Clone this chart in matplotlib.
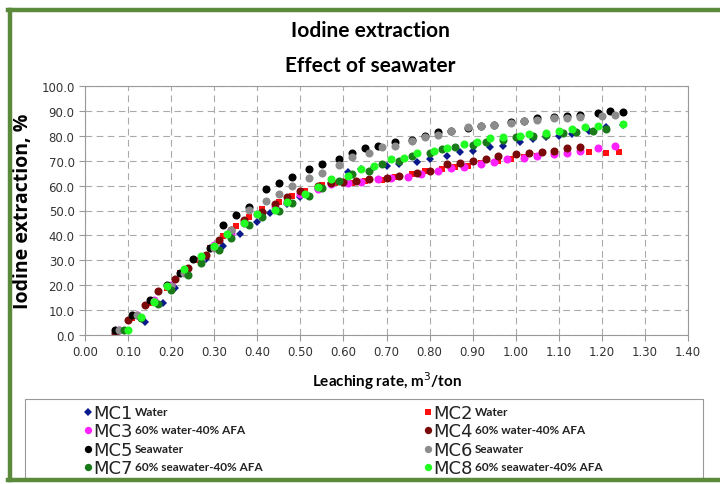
import matplotlib.pyplot as plt
from matplotlib.patches import Rectangle

# leaching rate (m3/ton) and iodine extraction (%) per column
mc1_x = [0.08, 0.14, 0.18, 0.21, 0.24, 0.28, 0.32, 0.36, 0.40, 0.43, 0.47, 0.50, 0.54, 0.57, 0.61, 0.64, 0.67,
         0.70, 0.73, 0.77, 0.80, 0.84, 0.87, 0.90, 0.94, 0.97, 1.01, 1.04, 1.07, 1.10, 1.13, 1.17, 1.21, 1.25]
mc1_y = [1.5, 5.2, 12.9, 18.9, 24.5, 30.5, 35.7, 40.6, 45.4, 49, 52.5, 55.5, 58.5, 61, 65.5, 66.5, 67.5,
         68, 68.7, 69.5, 70.7, 71.9, 73.5, 73.9, 75.5, 75.9, 77.5, 78.7, 79.5, 79.9, 80.7, 81.9, 83.5, 84.3]

mc2_x = [0.07, 0.11, 0.15, 0.19, 0.22, 0.26, 0.29, 0.32, 0.35, 0.38, 0.41, 0.45, 0.48, 0.51, 0.55, 0.58, 0.62, 0.65,
         0.69, 0.72, 0.76, 0.79, 0.83, 0.86, 0.89, 0.92, 0.96, 0.99, 1.02, 1.05, 1.09, 1.12, 1.17, 1.21, 1.24]
mc2_y = [1.5, 7, 13, 19, 25, 30, 35, 39.8, 43.8, 47.4, 50.6, 53.4, 55.8, 58, 60.2, 61, 61, 62,
         62.2, 63.5, 64.5, 65.9, 66.7, 67.5, 67.9, 69.1, 69.9, 70.7, 71.5, 71.9, 72.7, 73.1, 73.5, 73.1, 73.5]

mc3_x = [0.08, 0.12, 0.16, 0.20, 0.23, 0.27, 0.30, 0.34, 0.37, 0.40, 0.44, 0.47, 0.50, 0.54, 0.57, 0.61, 0.64,
         0.68, 0.71, 0.75, 0.78, 0.82, 0.85, 0.88, 0.92, 0.95, 0.98, 1.02, 1.05, 1.09, 1.12, 1.15, 1.19, 1.23]
mc3_y = [2, 8, 14, 20, 26, 31, 36, 41, 45, 48.5, 51.5, 54, 56.5, 58.8, 60.5, 61, 61.5,
         62.5, 63, 63.5, 64.5, 65.9, 67, 67.5, 68.5, 69.5, 70.5, 71, 72, 72.5, 73, 74, 75.1, 75.9]

mc4_x = [0.07, 0.10, 0.14, 0.17, 0.21, 0.24, 0.28, 0.31, 0.34, 0.37, 0.41, 0.44, 0.47, 0.50, 0.54, 0.57, 0.60,
         0.63, 0.66, 0.70, 0.73, 0.77, 0.80, 0.84, 0.87, 0.90, 0.93, 0.96, 1.00, 1.03, 1.06, 1.09, 1.12, 1.15]
mc4_y = [1, 6, 12, 17.5, 22.5, 27, 32, 38, 42, 46, 49.5, 52.5, 55.5, 58, 60, 61, 61.5,
         62, 62.5, 63, 64, 65, 66, 68.7, 69, 69.9, 70.5, 71.9, 72.5, 73.1, 73.5, 73.9, 75, 75.5]

mc5_x = [0.07, 0.11, 0.15, 0.19, 0.22, 0.25, 0.29, 0.32, 0.35, 0.38, 0.42, 0.45, 0.48, 0.52, 0.55, 0.59, 0.62, 0.65,
         0.68, 0.72, 0.76, 0.79, 0.82, 0.85, 0.89, 0.92, 0.95, 0.99, 1.02, 1.05, 1.09, 1.12, 1.15, 1.19, 1.22, 1.25]
mc5_y = [2, 8, 14, 20, 25, 30.5, 35, 44, 48, 51.5, 58.5, 61, 63.5, 66.5, 68.5, 70.5, 73, 75,
         76, 77.5, 78.5, 80, 81.5, 82, 83, 84, 84.5, 85.5, 86, 87, 87.5, 88, 88.5, 89, 90, 89.5]

mc6_x = [0.08, 0.12, 0.16, 0.20, 0.23, 0.27, 0.30, 0.34, 0.38, 0.42, 0.45, 0.48, 0.52, 0.55, 0.59, 0.62, 0.66,
         0.69, 0.72, 0.76, 0.79, 0.82, 0.85, 0.89, 0.92, 0.95, 0.99, 1.02, 1.05, 1.09, 1.12, 1.15, 1.20, 1.23]
mc6_y = [2, 8, 13.5, 19.5, 25, 30, 35, 42, 50.2, 53.8, 56.6, 60, 63, 65, 68.3, 71.5, 73,
         75.5, 75.8, 78, 79.5, 80.5, 82, 83.5, 84, 84.3, 85, 86, 86.5, 87, 87.2, 87.5, 88, 88.3]

mc7_x = [0.09, 0.13, 0.17, 0.20, 0.24, 0.27, 0.31, 0.34, 0.38, 0.41, 0.45, 0.48, 0.52, 0.55, 0.59, 0.62, 0.66,
         0.69, 0.73, 0.76, 0.80, 0.83, 0.86, 0.90, 0.93, 0.97, 1.00, 1.04, 1.07, 1.11, 1.14, 1.18, 1.21]
mc7_y = [2, 7, 12.5, 18, 24, 29, 34, 39, 44, 47.5, 50, 53, 56, 59, 62, 64.5, 66,
         68.5, 70, 72, 73, 74.5, 75.5, 76.5, 77.5, 78.5, 79.5, 80, 80.5, 81, 81.5, 82, 82.7]

mc8_x = [0.10, 0.13, 0.16, 0.19, 0.23, 0.27, 0.30, 0.33, 0.37, 0.40, 0.44, 0.47, 0.51, 0.54, 0.57, 0.61, 0.64, 0.67,
         0.71, 0.74, 0.77, 0.81, 0.84, 0.88, 0.91, 0.94, 0.97, 1.01, 1.03, 1.07, 1.10, 1.13, 1.16, 1.19, 1.25]
mc8_y = [2, 7.2, 13.3, 19.7, 26.5, 31.7, 35.7, 40.6, 45, 48.6, 50.2, 53.4, 56.6, 59.4, 62.6, 63.9, 66.7, 67.9,
         70.7, 71.1, 73.1, 73.9, 75.1, 76.7, 77.5, 79.1, 79.5, 79.9, 80.7, 81.2, 81.9, 82.7, 83.5, 83.9, 84.7]

names = ["MC1", "MC2", "MC3", "MC4", "MC5", "MC6", "MC7", "MC8"]
descr = ["Water", "Water", "60% water-40% AFA", "60% water-40% AFA",
         "Seawater", "Seawater", "60% seawater-40% AFA", "60% seawater-40% AFA"]
xs = [mc1_x, mc2_x, mc3_x, mc4_x, mc5_x, mc6_x, mc7_x, mc8_x]
ys = [mc1_y, mc2_y, mc3_y, mc4_y, mc5_y, mc6_y, mc7_y, mc8_y]
colors = ["#0a1a8a", "#ff1010", "#ff22ff", "#7a0a0a", "#000000", "#8c8c8c", "#1a7a1a", "#22ff22"]
markers = ["D", "s", "o", "o", "o", "o", "o", "o"]
msizes = [4.5, 5, 5.8, 5.8, 5.8, 5.8, 5.8, 5.8]

fig = plt.figure(figsize=(7.2, 4.85), dpi=100)

# green frame: left, top and bottom edges (right edge is cut off)
green = "#5b8a3c"
fx = lambda px: px / 720
fy = lambda py: 1 - py / 485
fig.lines.append(plt.Line2D([fx(10), fx(10)], [fy(11), fy(481)], transform=fig.transFigure,
                            color=green, linewidth=3.2))
fig.lines.append(plt.Line2D([fx(8), 1], [fy(11), fy(11)], transform=fig.transFigure,
                            color=green, linewidth=3.2))
fig.lines.append(plt.Line2D([fx(8), 1], [fy(481), fy(481)], transform=fig.transFigure,
                            color=green, linewidth=3.2))

ax = fig.add_axes([fx(85), fy(336), 603 / 720, 249 / 485])
for i in range(8):
    ax.plot(xs[i], ys[i], linestyle="none", marker=markers[i], markersize=msizes[i],
            color=colors[i], markeredgewidth=0)

ax.set_xlim(0, 1.4)
ax.set_ylim(0, 100)
ax.set_xticks([i / 10 for i in range(15)])
ax.set_xticklabels(["%.2f" % (i / 10) for i in range(15)])
ax.set_yticks(range(0, 101, 10))
ax.set_yticklabels(["%.1f" % v for v in range(0, 101, 10)])
ax.tick_params(labelsize=8.5, colors="#999999", labelcolor="#333333", length=4, width=0.8)
ax.grid(True, linestyle=(0, (6, 4)), color="#aaaaaa", linewidth=0.8)
ax.set_axisbelow(True)
for s in ax.spines.values():
    s.set_color("#999999")

ax.set_xlabel("Leaching rate, m$^3$/ton", fontsize=11, fontweight="bold", family="Lato", labelpad=8)
ax.set_ylabel("Iodine extraction, %", fontsize=14, fontweight="bold", family="Open Sans", labelpad=6)

fig.text(fx(370), fy(31), "Iodine extraction", ha="center", va="center",
         fontsize=15, fontweight="bold", family="Lato")
fig.text(fx(370), fy(66), "Effect of seawater", ha="center", va="center",
         fontsize=15, fontweight="bold", family="Lato")

# legend box drawn by hand (mixed font sizes)
fig.patches.append(Rectangle((fx(25), fy(481)), 678 / 720, 81 / 485, transform=fig.transFigure,
                             fill=False, edgecolor="#999999", linewidth=0.8, zorder=1))
rows = [413, 431, 450, 468]
cols = [88, 428]
for i in range(8):
    cx = fx(cols[i % 2])
    cy = fy(rows[i // 2])
    fig.lines.append(plt.Line2D([cx], [cy], transform=fig.transFigure, linestyle="none",
                                marker=markers[i], markersize=msizes[i] - 0.5, color=colors[i],
                                markeredgewidth=0))
    fig.text(cx + 5 / 720, cy - 1 / 485, names[i], ha="left", va="center", fontsize=13,
             family="Liberation Sans Narrow", color="#222222")
    fig.text(cx + 47 / 720, cy, descr[i], ha="left", va="center", fontsize=8.5,
             fontweight="bold", family="Lato", color="#222222")

plt.savefig("out.png", dpi=100)
